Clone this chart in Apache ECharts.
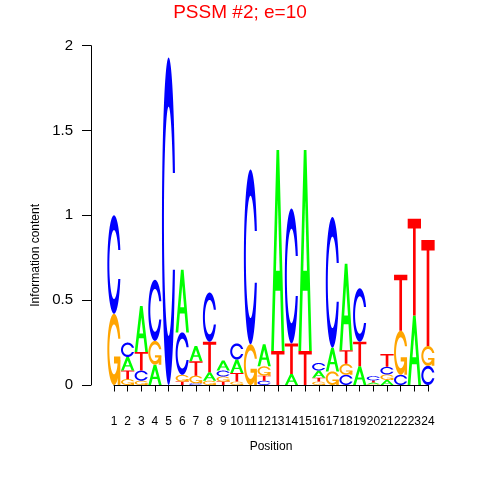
<!DOCTYPE html>
<html>
<head>
<meta charset="utf-8">
<script src="https://cdn.jsdelivr.net/npm/echarts@6/dist/echarts.min.js"></script>
<style>html,body{margin:0;padding:0;background:#fff}#c{width:480px;height:480px}</style>
</head>
<body>
<div id="c"></div>
<script>
// Information content (bits) of each letter per position 1..24
var positions = [1,2,3,4,5,6,7,8,9,10,11,12,13,14,15,16,17,18,19,20,21,22,23,24];
var heightA = [0,    0.080,0.270,0.120,0,    0.370,0.090,0.050,0.060,0.080,0,    0.130,1.185,0.065,1.185,0.043,0.140,0.510,0.110,0.010,0.030,0,    0.410,0];
var heightC = [0.580,0.085,0.060,0.360,1.930,0.250,0.010,0.290,0.035,0.095,1.030,0.025,0,    0.795,0,    0.045,0.770,0.060,0.315,0.025,0.045,0.060,0,    0.113];
var heightG = [0.420,0.035,0.025,0.140,0,    0.040,0.045,0.025,0.030,0.020,0.240,0.055,0,    0,    0,    0.020,0.080,0.065,0,    0.005,0.032,0.260,0,    0.117];
var heightT = [0,    0.050,0.110,0,    0,    0.020,0.085,0.180,0.020,0.050,0,    0.030,0.200,0.180,0.200,0.022,0,    0.080,0.145,0.012,0.075,0.330,0.570,0.625];
var letters = ['A','C','G','T'];
var yTicks = [0, 0.5, 1, 1.5, 2];

var letterColors = {A:'#00FF00', C:'#0000FF', G:'#FFA500', T:'#FF0000'};

// letter glyph polygons in a unit square (x right, y up)
function cRing(){
  var n = 100, a1 = [], a2 = [], i;
  for (i=0;i<n;i++){ a1.push(0.3+Math.PI/2 + (Math.PI-(0.3+Math.PI/2))*i/(n-1)); a2.push(Math.PI + (0.5*Math.PI)*i/(n-1)); }
  var xl=[], yl=[];
  a1.forEach(function(a){xl.push(0.5+0.5*Math.sin(a)); yl.push(0.5+0.5*Math.cos(a));});
  var maxY1 = Math.max.apply(null, yl.slice());
  a2.forEach(function(a){xl.push(0.5+0.5*Math.sin(a)); yl.push(0.5+0.5*Math.cos(a));});
  var x = xl.concat(xl.slice().reverse());
  var y = yl.concat(yl.slice().reverse().map(function(v){return 1-v;}));
  var xi=[], yi=[], first=true;
  a1.forEach(function(a){var yy=0.5+0.35*Math.cos(a); if(yy<=maxY1){ xi.push(0.5+0.35*Math.sin(a)); yi.push(first?maxY1:yy); first=false; }});
  a2.forEach(function(a){xi.push(0.5+0.35*Math.sin(a)); yi.push(0.5+0.35*Math.cos(a));});
  var x1 = xi.concat(xi.slice().reverse());
  var y1 = yi.concat(yi.slice().reverse().map(function(v){return 1-v;}));
  x = x.concat(x1.slice().reverse()); y = y.concat(y1.slice().reverse());
  var pts=[]; for(i=0;i<x.length;i++) pts.push([x[i],y[i]]);
  return {pts: pts, r1: 0.5+0.5*Math.sin(0.3+Math.PI/2)};
}
var ring = cRing();
var r1 = ring.r1;
var glyphs = {
  A: [{p:[[0,0],[0.4,1],[0.6,1],[1,0],[0.8,0],[0.68,0.3],[0.32,0.3],[0.2,0]], hole:false},
      {p:[[0.36,0.4],[0.5,0.75],[0.64,0.4]], hole:true}],
  C: [{p:ring.pts, hole:false}],
  G: [{p:ring.pts, hole:false},
      {p:[[r1,0.4],[0.5,0.4],[0.5,0.3],[r1-0.2,0.3],[r1-0.2,0],[r1,0]], hole:false}],
  T: [{p:[[0,1],[1,1],[1,0.9],[0.6,0.9],[0.6,0],[0.4,0],[0.4,0.9],[0,0.9]], hole:false}]
};

// build stacked data: [position, y0, y1, letterIndex]
var heights = {A:heightA, C:heightC, G:heightG, T:heightT};
var stackData = [];
positions.forEach(function(pos, i){
  var items = letters.map(function(L, li){ return {li: li, h: heights[L][i]}; })
    .filter(function(o){ return o.h > 0; });
  items.sort(function(a,b){ return a.h - b.h; });
  var base = 0;
  items.forEach(function(o){ stackData.push([pos, base, base + o.h, o.li]); base += o.h; });
});

function renderLetter(params, api){
  var pos = api.value(0), y0 = api.value(1), y1 = api.value(2), L = letters[api.value(3)];
  var w = api.size([1, 0])[0] * 0.975;
  var xc = api.coord([pos, 0])[0];
  var x0 = xc - w/2;
  var children = glyphs[L].map(function(g){
    var pts = g.p.map(function(q){
      var py = api.coord([pos, y0 + q[1]*(y1-y0)])[1];
      return [x0 + q[0]*w, py];
    });
    return {type:'polygon', shape:{points: pts}, style:{fill: g.hole ? '#ffffff' : letterColors[L], stroke: null}};
  });
  return {type:'group', children: children};
}

var font = 'Liberation Sans, Arial, Helvetica, sans-serif';
var chart = echarts.init(document.getElementById('c'), null, {renderer:'canvas'});
chart.setOption({
  animation: false,
  backgroundColor: '#ffffff',
  textStyle: {fontFamily: font},
  title: {text: 'PSSM #2; e=10', left: 'center', top: -2,
    textStyle: {color:'#FF0000', fontSize: 19, fontWeight:'normal', fontFamily: font}},
  grid: {left: 114, right: 52, top: 45.7, bottom: 95, containLabel: false},
  xAxis: {type:'value', min: 1, max: 24, interval: 1, offset: 17,
    name: 'Position', nameLocation: 'middle', nameGap: 39,
    nameTextStyle: {color:'#000', fontSize: 12, fontFamily: font},
    axisLine: {show:true, lineStyle:{color:'#000', width:1}},
    axisTick: {show:true, length: 6.5, lineStyle:{color:'#000'}},
    axisLabel: {color:'#000', fontSize: 12, margin: 14, fontFamily: font, showMinLabel:true, showMaxLabel:true},
    splitLine: {show:false}},
  yAxis: {type:'value', min: yTicks[0], max: yTicks[yTicks.length-1], interval: 0.5, offset: 23,
    name: 'Information content', nameLocation: 'middle', nameGap: 44,
    nameTextStyle: {color:'#000', fontSize: 12, fontFamily: font, padding: [0, 80, 0, 0]},
    axisLine: {show:true, lineStyle:{color:'#000', width:1}},
    axisTick: {show:true, length: 9, lineStyle:{color:'#000'}},
    axisLabel: {color:'#000', fontSize: 15, margin: 18, fontFamily: font},
    splitLine: {show:false}},
  series: [{type:'custom', renderItem: renderLetter, data: stackData, clip: false,
    encode: {x: 0, y: [1, 2]}, silent: true}]
});
</script>
</body>
</html>
